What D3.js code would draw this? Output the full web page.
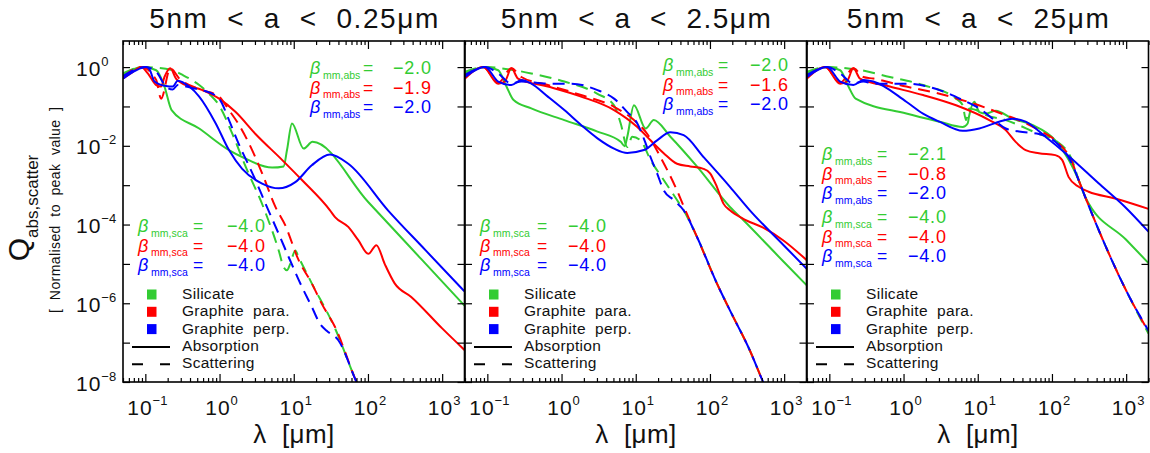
<!DOCTYPE html>
<html>
<head>
<meta charset="utf-8">
<script src="https://cdn.jsdelivr.net/npm/d3@7"></script>
<style>
  body { margin: 0; background: #fff; }
  svg text { font-family: "Liberation Sans", Arial, sans-serif; fill: #111; }
</style>
</head>
<body>
<svg id="chart" width="1150" height="453"></svg>
<script>
// ---- Panel titles and labels ----
const panelTitles = ["5nm  <  a  <  0.25μm", "5nm  <  a  <  2.5μm", "5nm  <  a  <  25μm"];
const materialNames = ["Silicate", "Graphite  para.", "Graphite  perp."];
const lineTypeNames = ["Absorption", "Scattering"];
const betaAbs = [["−2.0", "−1.9", "−2.0"], ["−2.0", "−1.6", "−2.0"], ["−2.1", "−0.8", "−2.0"]];
const betaSca = [["−4.0", "−4.0", "−4.0"], ["−4.0", "−4.0", "−4.0"], ["−4.0", "−4.0", "−4.0"]];
const xTickExponents = [-1, 0, 1, 2, 3];
const yTickExponents = [0, -2, -4, -6, -8];

// ---- Normalised efficiencies: [wavelength (μm), Q / Q_peak] ----
// 5nm < a < 0.25μm
const silAbs1 = [[0.05,0.63],[0.068,0.87],[0.093,1],[0.14,0.83],[0.181,0.32],[0.226,0.081],[0.532,0.0275],[1.34,0.0078],[2.02,0.0052],[5.1,0.0028],[7.31,0.003],[8.11,0.0078],[9.46,0.037],[13.6,0.0085],[17.9,0.0126],[100,3.8e-4],[500,1.45e-5],[2000,8.7e-7]];
const silSca1 = [[0.05,0.69],[0.093,1],[0.234,0.83],[0.318,0.63],[0.532,0.35],[0.724,0.21],[0.986,0.107],[1.49,0.02],[2.24,0.003],[3.98,0.00025],[6.27,2.2e-5],[7.31,8.3e-6],[8.11,6.9e-6],[8.97,1.0e-5],[10.5,2.2e-5],[11.6,1.5e-5],[17.5,3.2e-6],[36,2.3e-7],[70.1,1e-8],[100,2.4e-9]];
const parAbs1 = [[0.05,0.51],[0.068,0.76],[0.088,1],[0.108,0.69],[0.14,0.35],[0.163,0.32],[0.181,0.56],[0.217,0.93],[0.259,0.51],[0.302,0.40],[0.589,0.26],[0.986,0.158],[1.65,0.072],[3.05,0.020],[6.95,0.0044],[12.9,0.00135],[30.8,0.00023],[36,0.000155],[54.3,8.7e-5],[74,4.0e-5],[101,1.8e-5],[130,3.0e-5],[168,1.0e-5],[229,3.2e-6],[383,1.45e-6],[1000,2.3e-7],[2000,6.5e-8]];
const parSca1 = [[0.05,0.56],[0.088,1],[0.14,0.47],[0.163,0.158],[0.217,0.93],[0.287,0.51],[0.589,0.26],[0.986,0.178],[1.34,0.081],[1.83,0.034],[2.75,0.0078],[3.75,0.002],[5.66,0.00028],[7.7,9.5e-5],[11.6,1.26e-5],[17.5,3.2e-6],[23.8,9.8e-7],[36,2.5e-7],[70.1,1e-8],[100,2.4e-9]];
const perpAbs1 = [[0.05,0.51],[0.075,0.83],[0.103,1],[0.114,0.87],[0.133,0.43],[0.19,0.33],[0.234,0.32],[0.273,0.45],[0.391,0.32],[0.532,0.178],[0.889,0.037],[1.34,0.0078],[2.02,0.0026],[3.75,0.0011],[6.27,0.00083],[10.5,0.0012],[17.5,0.0032],[30.8,0.006],[54.3,0.0035],[186,0.00023],[600,2.2e-5],[2000,2.0e-6]];
const perpSca1 = [[0.05,0.59],[0.1,1],[0.14,0.76],[0.19,0.32],[0.234,0.27],[0.273,0.35],[0.434,0.29],[0.589,0.26],[0.986,0.158],[1.34,0.045],[1.73,0.0138],[3.05,0.00135],[4.16,0.00034],[6.27,5.8e-5],[8.53,1.5e-5],[12.9,2.6e-6],[17.5,8.1e-7],[22.6,3.0e-7],[27.8,2.0e-7],[39.9,1.15e-7],[70.1,1e-8],[100,2.4e-9]];

// 5nm < a < 2.5μm
const silAbs2 = [[0.05,0.69],[0.068,0.87],[0.093,1],[0.14,0.83],[0.181,0.32],[0.226,0.145],[0.391,0.089],[1.09,0.045],[3.05,0.023],[6.27,0.0126],[7.1,0.0098],[7.69,0.017],[9.46,0.107],[13.6,0.0275],[17.5,0.045],[29.3,0.017],[66.7,0.003],[186,0.00028],[281,0.00013],[1000,1.1e-5],[2000,2.9e-6]];
const silSca2 = [[0.05,0.76],[0.093,1],[0.234,0.83],[0.391,0.69],[1.09,0.43],[3.05,0.21],[5.1,0.107],[6.27,0.037],[7.69,0.0093],[8.97,0.017],[11.6,0.0138],[15.8,0.0044],[23.8,0.00135],[36,0.00042],[44.2,0.00023],[66.7,4.9e-5],[124,3.2e-6],[186,6.6e-7],[345,6.3e-8],[521,1e-8],[800,1.8e-9]];
const parAbs2 = [[0.05,0.51],[0.088,1],[0.14,0.38],[0.172,0.43],[0.211,0.93],[0.259,0.51],[0.653,0.32],[1.83,0.178],[5.1,0.081],[10.5,0.03],[15.8,0.0138],[23.8,0.0065],[36,0.0035],[54.3,0.003],[81.8,0.0026],[100.5,0.002],[124,0.00091],[152,0.00034],[186,0.00023],[281,0.00014],[521,8.3e-5],[966,4.0e-5],[2000,1.26e-5]];
const parSca2 = [[0.05,0.56],[0.088,1],[0.14,0.40],[0.211,0.93],[0.287,0.56],[0.653,0.35],[1.83,0.195],[5.1,0.098],[9.46,0.045],[14.3,0.02],[21.5,0.0052],[34.2,0.00091],[46.6,0.00023],[66.7,4.9e-5],[124,3.2e-6],[186,6.6e-7],[345,6.3e-8],[521,1e-8],[800,1.8e-9]];
const perpAbs2 = [[0.05,0.56],[0.093,1],[0.14,0.43],[0.211,0.35],[0.287,0.47],[0.391,0.38],[0.653,0.178],[1.09,0.081],[1.83,0.034],[3.05,0.0155],[5.1,0.0085],[7.69,0.0066],[12.9,0.0078],[19.4,0.0138],[29.3,0.022],[44.2,0.0186],[81.8,0.0052],[186,0.00091],[345,0.00023],[1000,2.9e-5],[2000,7.6e-6]];
const perpSca2 = [[0.05,0.63],[0.093,1],[0.14,0.69],[0.211,0.38],[0.287,0.43],[0.653,0.38],[1.34,0.38],[3.05,0.26],[5.1,0.158],[7.69,0.072],[10.5,0.037],[13.6,0.0115],[15.8,0.0052],[19.4,0.002],[23.8,0.00074],[32.4,0.00042],[44.2,0.00023],[66.7,4.9e-5],[124,3.2e-6],[186,6.6e-7],[345,6.3e-8],[521,1e-8],[800,1.8e-9]];

// 5nm < a < 25μm
const silAbs3 = [[0.05,0.69],[0.068,0.87],[0.093,1],[0.14,0.83],[0.181,0.32],[0.226,0.158],[1.09,0.066],[3.05,0.041],[6.27,0.03],[7.31,0.037],[7.69,0.06],[8.97,0.132],[10.5,0.072],[12.9,0.066],[17.5,0.078],[29.3,0.049],[54.3,0.034],[111,0.0138],[168,0.0044],[229,0.00135],[281,0.0005],[1000,4.1e-5],[2000,1.05e-5]];
const silSca3 = [[0.05,0.76],[0.093,1],[0.234,0.87],[0.653,0.56],[1.83,0.35],[5.1,0.158],[6.27,0.107],[6.95,0.045],[7.69,0.089],[9.46,0.081],[12.9,0.06],[23.8,0.045],[66.7,0.02],[111,0.0138],[186,0.0044],[229,0.00135],[281,0.0005],[521,3e-5],[966,2.4e-6],[2000,1.7e-7]];
const parAbs3 = [[0.05,0.51],[0.088,1],[0.14,0.38],[0.172,0.43],[0.211,0.93],[0.259,0.51],[0.653,0.32],[1.83,0.195],[5.1,0.107],[14.3,0.045],[23.8,0.025],[32.4,0.0126],[44.2,0.0078],[66.7,0.0065],[111,0.0058],[137,0.0044],[168,0.0016],[229,0.00091],[312,0.00068],[710,0.00046],[2000,0.00025]];
const parSca3 = [[0.05,0.56],[0.088,1],[0.14,0.40],[0.211,0.93],[0.287,0.56],[0.391,0.51],[1.09,0.32],[3.05,0.21],[8.53,0.12],[23.8,0.06],[39.9,0.041],[66.7,0.025],[111,0.0138],[186,0.0039],[229,0.00135],[281,0.0005],[521,3e-5],[966,2.4e-6],[2000,1.9e-7]];
const perpAbs3 = [[0.05,0.56],[0.093,1],[0.14,0.43],[0.211,0.35],[0.287,0.47],[0.391,0.43],[1.09,0.132],[1.83,0.066],[3.05,0.041],[6.27,0.024],[10.5,0.0275],[19.4,0.041],[29.3,0.049],[44.2,0.041],[81.8,0.017],[152,0.0065],[425,0.00112],[966,0.00028],[2000,6.6e-5]];
const perpSca3 = [[0.05,0.63],[0.093,1],[0.14,0.69],[0.211,0.38],[0.287,0.43],[0.391,0.38],[1.09,0.38],[3.05,0.26],[6.27,0.145],[10.5,0.089],[15.8,0.049],[23.8,0.0275],[36,0.023],[66.7,0.02],[111,0.0126],[186,0.0035],[229,0.00135],[281,0.0005],[521,3e-5],[966,2.4e-6],[2000,2.0e-7]];

const panels = [
  { abs: [silAbs1, parAbs1, perpAbs1], sca: [silSca1, parSca1, perpSca1] },
  { abs: [silAbs2, parAbs2, perpAbs2], sca: [silSca2, parSca2, perpSca2] },
  { abs: [silAbs3, parAbs3, perpAbs3], sca: [silSca3, parSca3, perpSca3] }
];

// ---- Layout ----
const panelLeft = [123, 465, 807];
const panelWidth = 341.5;
const plotTop = 41, plotBottom = 382;
const colors = ["#33cc33", "#ff0000", "#0000ff"];
const dash = "12,7";

// label block positions (x of β, x of "=", x of value, first baseline)
const absBlock = [
  { xb: 310, xe: 363, xv: 393, y0: 74 },
  { xb: 663, xe: 718, xv: 750, y0: 71 },
  { xb: 822, xe: 877, xv: 908, y0: 160 }
];
const scaBlock = [
  { xb: 138, xe: 193, xv: 227, y0: 232 },
  { xb: 480, xe: 537, xv: 568, y0: 232 },
  { xb: 822, xe: 877, xv: 908, y0: 223 }
];
const lineGap = 19.7;
const labelSize = 17.5;

const svg = d3.select("#chart");
const defs = svg.append("defs");

function betaLabel(g, blk, row, subText, val, color) {
  const yb = blk.y0 + row * lineGap;
  g.append("text").attr("x", blk.xb).attr("y", yb).attr("font-size", labelSize + 0.5)
    .attr("font-style", "italic").style("fill", color).text("β");
  g.append("text").attr("x", blk.xb + 13).attr("y", yb + 4.5).attr("font-size", 10.5)
    .style("fill", color).text(subText);
  g.append("text").attr("x", blk.xe).attr("y", yb).attr("font-size", labelSize).style("fill", color).text("=");
  g.append("text").attr("x", blk.xv).attr("y", yb).attr("font-size", labelSize + 0.5)
    .attr("letter-spacing", 0.8).style("fill", color).text(val);
}

function powerLabel(t, exp, mainSize, supSize, supDy) {
  t.append("tspan").text("10").attr("font-size", mainSize).attr("letter-spacing", 1);
  t.append("tspan").text(exp < 0 ? "−" + (-exp) : String(exp)).attr("font-size", supSize).attr("dy", supDy);
}

panels.forEach((p, i) => {
  const x0 = panelLeft[i], x1 = x0 + panelWidth;
  const x = d3.scaleLog().domain([0.05, 2000]).range([x0, x1]);
  const y = d3.scaleLog().domain([1e-8, 4.6]).range([plotBottom, plotTop]);
  const g = svg.append("g");

  defs.append("clipPath").attr("id", "clip" + i)
    .append("rect").attr("x", x0).attr("y", plotTop)
    .attr("width", panelWidth).attr("height", plotBottom - plotTop);

  const line = d3.line().x(d => x(d[0])).y(d => y(d[1])).curve(d3.curveMonotoneX);
  const cg = g.append("g").attr("clip-path", `url(#clip${i})`);
  [0, 1, 2].forEach(k => {
    cg.append("path").datum(p.abs[k]).attr("d", line)
      .attr("fill", "none").attr("stroke", colors[k]).attr("stroke-width", 2)
      .attr("stroke-linejoin", "round");
    cg.append("path").datum(p.sca[k]).attr("d", line)
      .attr("fill", "none").attr("stroke", colors[k]).attr("stroke-width", 2)
      .attr("stroke-dasharray", dash);
  });

  // axes: inward ticks on all four sides
  const majorX = xTickExponents.map(e => Math.pow(10, e));
  const minorX = x.ticks().filter(v => {
    const m = v / Math.pow(10, Math.floor(Math.log10(v) + 1e-9));
    return Math.abs(m - 1) > 1e-6 && v >= 0.05 && v <= 2000;
  });
  const majorY = d3.range(-8, 1).map(e => Math.pow(10, e));
  const tickStyle = s => { s.select(".domain").remove(); s.selectAll("line").attr("stroke", "#000").attr("stroke-width", 1.2); s.selectAll("text").remove(); };

  g.append("g").attr("transform", `translate(0,${plotBottom})`)
    .call(d3.axisBottom(x).tickValues(majorX).tickSize(-8).tickFormat("")).call(tickStyle);
  g.append("g").attr("transform", `translate(0,${plotBottom})`)
    .call(d3.axisBottom(x).tickValues(minorX).tickSize(-4).tickFormat("")).call(tickStyle);
  g.append("g").attr("transform", `translate(0,${plotTop})`)
    .call(d3.axisTop(x).tickValues(majorX).tickSize(-8).tickFormat("")).call(tickStyle);
  g.append("g").attr("transform", `translate(0,${plotTop})`)
    .call(d3.axisTop(x).tickValues(minorX).tickSize(-4).tickFormat("")).call(tickStyle);
  g.append("g").attr("transform", `translate(${x0},0)`)
    .call(d3.axisLeft(y).tickValues(majorY).tickSize(-7).tickFormat("")).call(tickStyle);
  g.append("g").attr("transform", `translate(${x1},0)`)
    .call(d3.axisRight(y).tickValues(majorY).tickSize(-7).tickFormat("")).call(tickStyle);

  g.append("rect").attr("x", x0).attr("y", plotTop).attr("width", panelWidth)
    .attr("height", plotBottom - plotTop).attr("fill", "none")
    .attr("stroke", "#000").attr("stroke-width", 1.6);

  // x tick labels
  xTickExponents.forEach(e => {
    const t = g.append("text").attr("x", x(Math.pow(10, e)) + 2).attr("y", 415).attr("text-anchor", "middle");
    powerLabel(t, e, 21, 13, -10);
  });

  // y tick labels (first panel only)
  if (i === 0) {
    yTickExponents.forEach(e => {
      const t = g.append("text").attr("x", 76).attr("y", y(Math.pow(10, e)) + 8.5);
      powerLabel(t, e, 21, 13, -10);
    });
  }

  // title and x-axis title
  const cx = (x0 + x1) / 2;
  const titleWidth = [289, 270, 262][i];
  g.append("text").attr("x", cx).attr("y", 28).attr("text-anchor", "middle")
    .attr("font-size", 28).style("white-space", "pre")
    .attr("textLength", titleWidth).attr("lengthAdjust", "spacing")
    .text(panelTitles[i]);
  g.append("text").attr("x", cx).attr("y", 443).attr("text-anchor", "middle")
    .attr("font-size", 26).style("white-space", "pre")
    .attr("textLength", 81).attr("lengthAdjust", "spacing")
    .text("λ  [μm]");

  // β annotations
  [0, 1, 2].forEach(k => {
    betaLabel(g, absBlock[i], k, "mm,abs", betaAbs[i][k], colors[k]);
    betaLabel(g, scaBlock[i], k, "mm,sca", betaSca[i][k], colors[k]);
  });

  // legend
  const lx = x0;
  const legBase = [299, 316.3, 333.6, 351, 368.2];
  materialNames.forEach((name, k) => {
    g.append("rect").attr("x", lx + 24).attr("y", legBase[k] - 9.5).attr("width", 9.5).attr("height", 10)
      .attr("fill", colors[k]);
    g.append("text").attr("x", lx + 59).attr("y", legBase[k]).attr("font-size", 15.5)
      .attr("letter-spacing", 0.3).style("white-space", "pre").text(name);
  });
  g.append("line").attr("x1", lx + 9).attr("x2", lx + 47).attr("y1", 347).attr("y2", 347)
    .attr("stroke", "#000").attr("stroke-width", 2);
  g.append("line").attr("x1", lx + 9).attr("x2", lx + 47).attr("y1", 364.3).attr("y2", 364.3)
    .attr("stroke", "#000").attr("stroke-width", 2).attr("stroke-dasharray", "11,17");
  lineTypeNames.forEach((name, k) => {
    g.append("text").attr("x", lx + 59).attr("y", legBase[3 + k]).attr("font-size", 15.5)
      .attr("letter-spacing", 0.3).text(name);
  });
});

// y-axis title
const yt = svg.append("text").attr("transform", "translate(29,208) rotate(-90)").attr("text-anchor", "middle");
yt.append("tspan").text("Q").attr("font-size", 30);
yt.append("tspan").text("abs,scatter").attr("font-size", 17).attr("dy", 9);
svg.append("text").attr("transform", "translate(60,210) rotate(-90)").attr("text-anchor", "middle")
  .attr("font-size", 14).style("white-space", "pre")
  .attr("textLength", 206).attr("lengthAdjust", "spacing")
  .text("[  Normalised  to  peak  value  ]");
</script>
</body>
</html>
